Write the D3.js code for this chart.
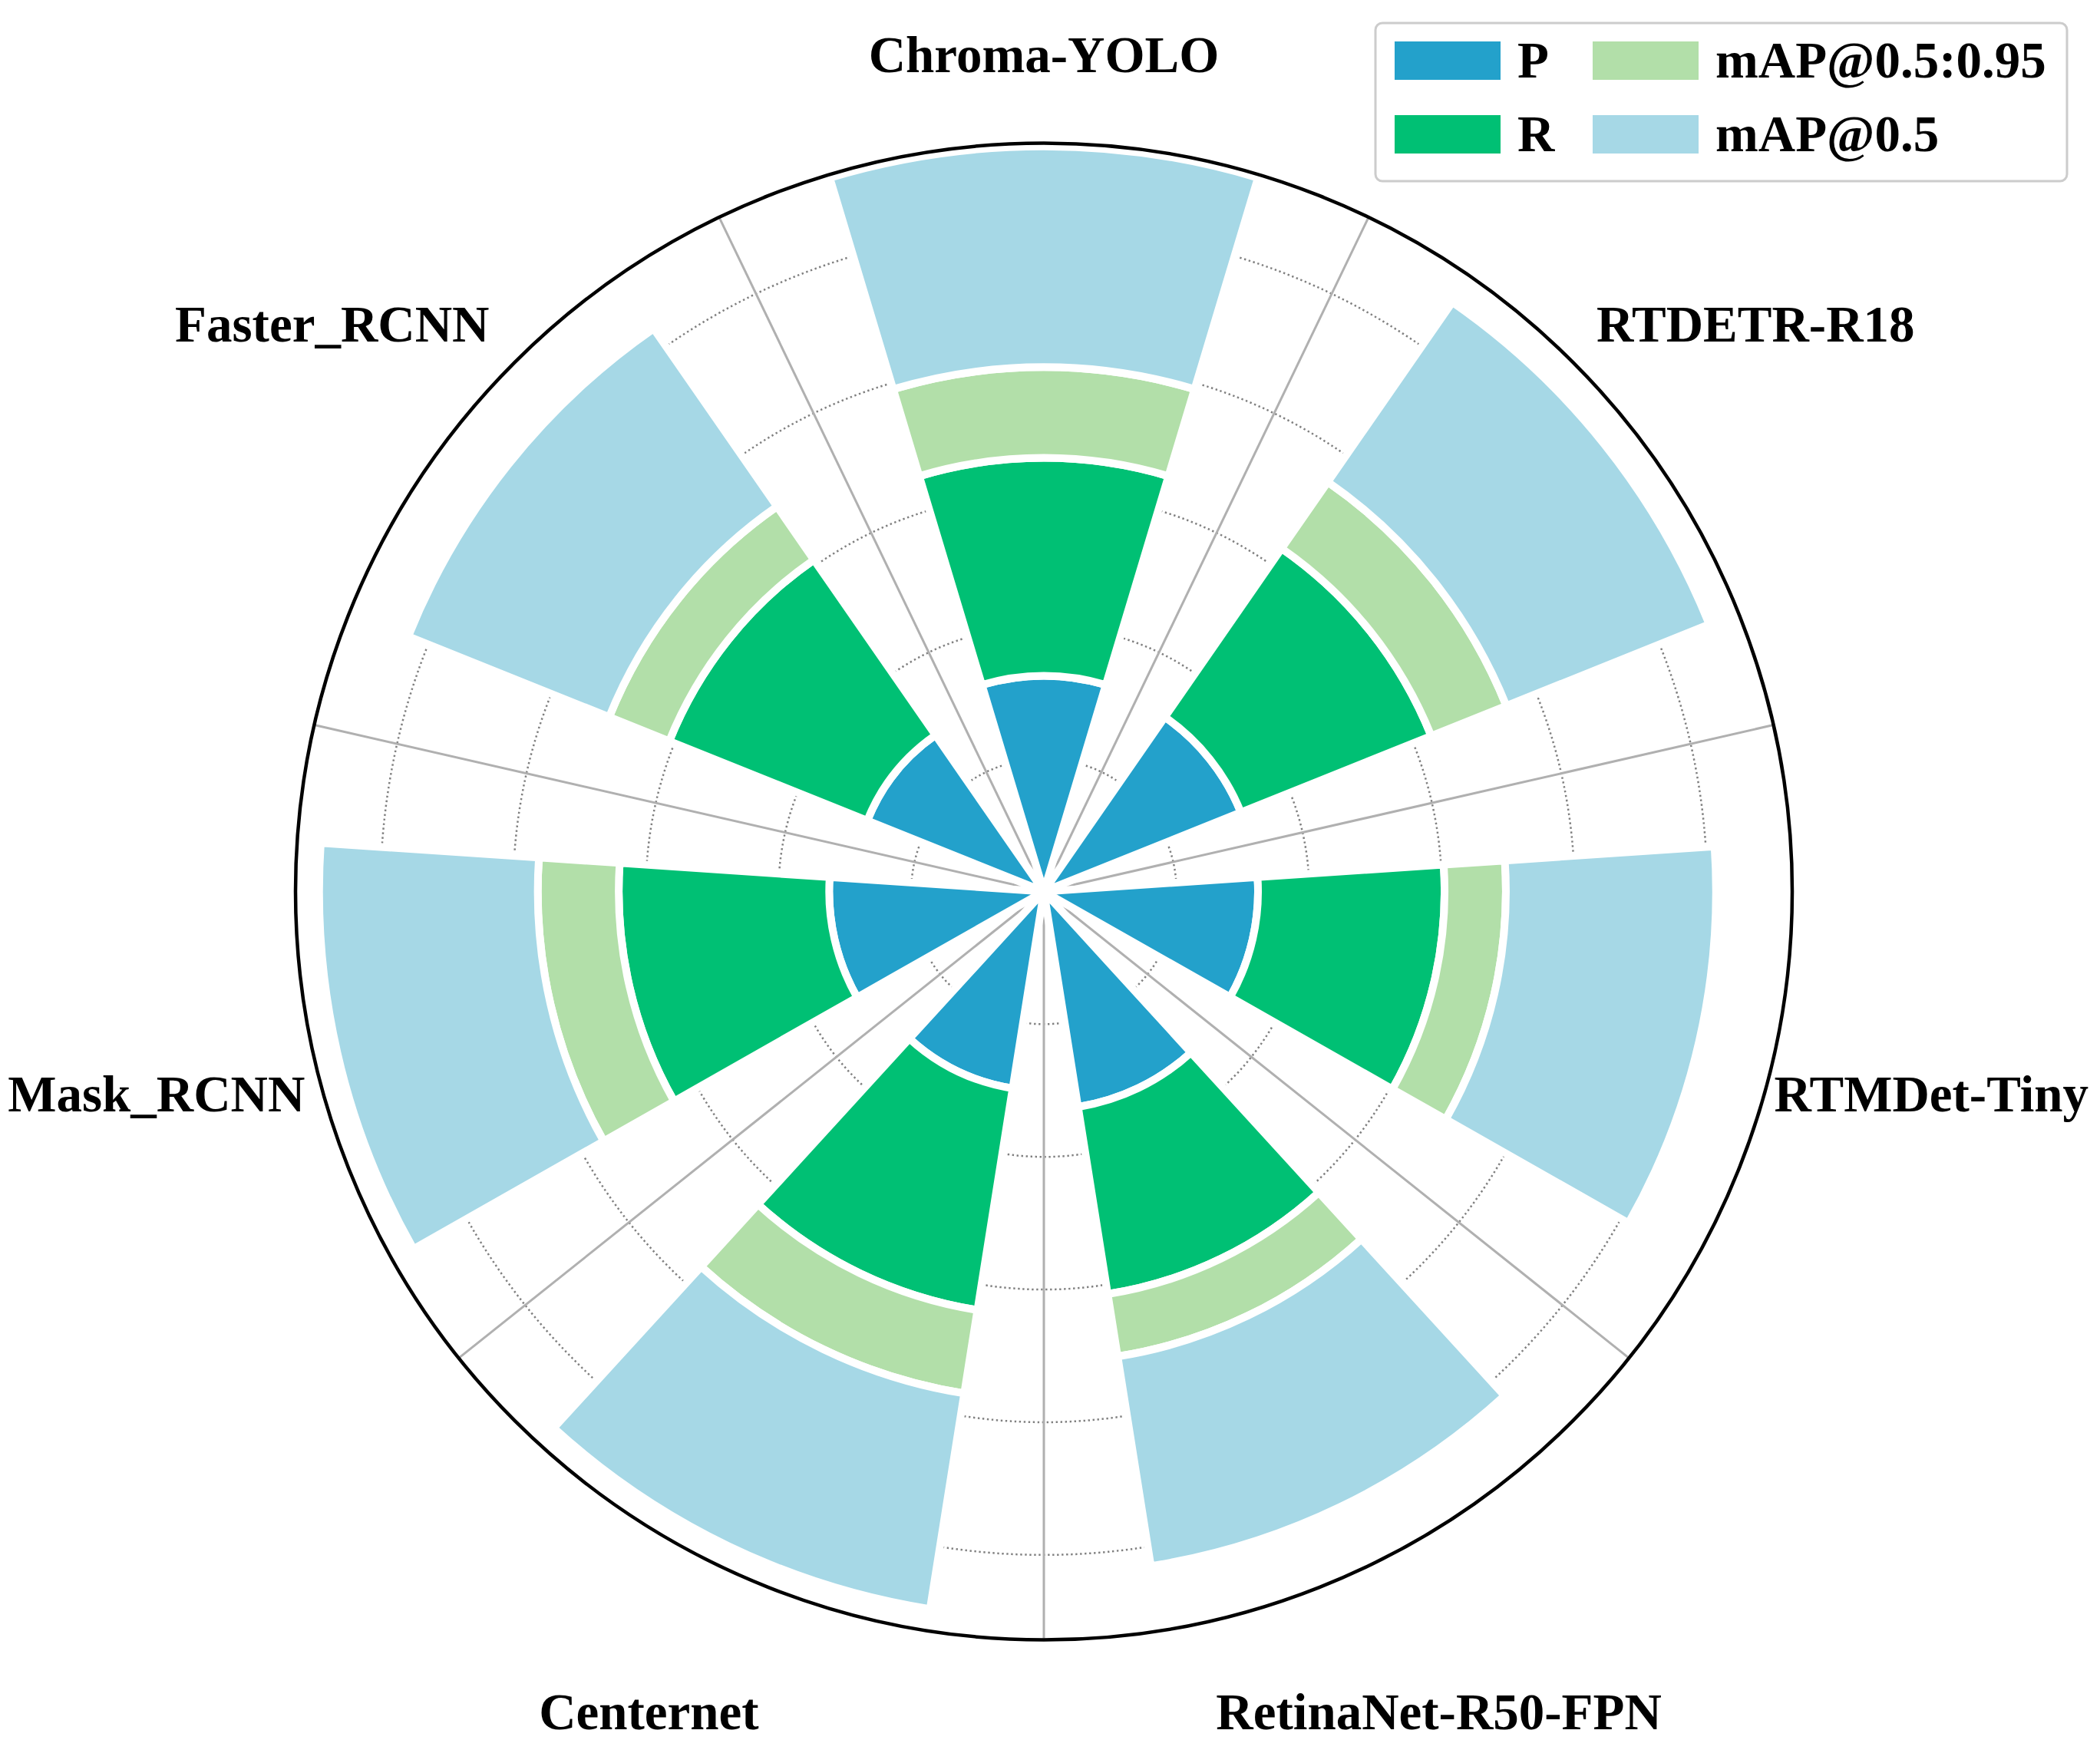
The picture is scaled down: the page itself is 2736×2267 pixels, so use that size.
<!DOCTYPE html>
<html><head><meta charset="utf-8">
<script src="https://cdn.jsdelivr.net/npm/d3@7"></script>
<style>html,body{margin:0;padding:0;background:#fff;} svg{display:block;}</style>
</head><body>
<svg id="chart" width="2736" height="2267"></svg>
<script>
// ---- data ----
const categories = ["Chroma-YOLO","RTDETR-R18","RTMDet-Tiny","RetinaNet-R50-FPN","Centernet","Mask_RCNN","Faster_RCNN"];
const seriesNames = ["P","R","mAP@0.5:0.95","mAP@0.5"];
const P       = [0.813,0.800,0.807,0.822,0.751,0.809,0.717];
const R       = [0.821,0.773,0.703,0.714,0.846,0.793,0.804];
const mAP5095 = [0.342,0.305,0.231,0.238,0.318,0.305,0.244];
const mAP50   = [0.832,0.824,0.792,0.800,0.823,0.824,0.816];
const radialTicks = [0.5,1.0,1.5,2.0,2.5];
const rMax = 2.82;
const colors = ["#23a1cb","#00c074","#b2dfa9","#a6d8e6"];

// ---- layout ----
const W = 2736, H = 2267;
const cx = 1360, cy = 1161.5, outerR = 975;
const n = categories.length;
const barWidth = 0.583;            // radians
const fontFam = "'Liberation Serif','Times New Roman',serif";

const svg = d3.select("#chart");
svg.append("rect").attr("width",W).attr("height",H).attr("fill","#fff");
const g = svg.append("g").attr("transform",`translate(${cx},${cy})`);

const r = d3.scaleLinear().domain([0,rMax]).range([0,outerR]);
const ang = d3.scaleLinear().domain([0,n]).range([0,2*Math.PI]);

const rows = categories.map((c,i)=>({cat:c, "P":P[i], "R":R[i], "mAP@0.5:0.95":mAP5095[i], "mAP@0.5":mAP50[i]}));
const stacked = d3.stack().keys(seriesNames)(rows);

// radial dotted grid circles
g.append("g").selectAll("circle").data(radialTicks).join("circle")
  .attr("r",d=>r(d)).attr("fill","none")
  .attr("stroke","#808080").attr("stroke-width",2.5)
  .attr("stroke-dasharray","2.4,3.6");

// theta grid lines (between categories)
g.append("g").selectAll("line").data(d3.range(n)).join("line")
  .attr("x1",0).attr("y1",0)
  .attr("x2",k=>Math.sin(ang(k+0.5))*outerR)
  .attr("y2",k=>-Math.cos(ang(k+0.5))*outerR)
  .attr("stroke","#b0b0b0").attr("stroke-width",3);

// stacked polar bars
const arc = d3.arc()
  .innerRadius(d=>r(d[0]))
  .outerRadius(d=>r(d[1]))
  .startAngle(d=>ang(d.i)-barWidth/2)
  .endAngle(d=>ang(d.i)+barWidth/2);

stacked.forEach((layer,si)=>{
  g.append("g").selectAll("path")
    .data(layer.map((d,i)=>{const o=[d[0],d[1]]; o.i=i; return o;}))
    .join("path")
    .attr("d",arc)
    .attr("fill",colors[si])
    .attr("stroke","#fff").attr("stroke-width",10).attr("stroke-linejoin","miter");
});

// outer circle
g.append("circle").attr("r",outerR).attr("fill","none")
  .attr("stroke","#000").attr("stroke-width",4.5);

// category labels
const labelR = categories.map((c,i)=> i===0 ? 1091 : 1186);
g.append("g").selectAll("text").data(categories).join("text")
  .attr("x",(d,i)=>Math.sin(ang(i))*labelR[i])
  .attr("y",(d,i)=>-Math.cos(ang(i))*labelR[i] + 23)
  .attr("text-anchor","middle")
  .attr("font-family",fontFam).attr("font-weight","bold")
  .attr("font-size",67).attr("fill","#000")
  .text(d=>d);

// legend
const lg = svg.append("g");
lg.append("rect").attr("x",1792).attr("y",30).attr("width",901).attr("height",206)
  .attr("rx",9).attr("fill","#fff").attr("stroke","#cccccc").attr("stroke-width",3);
const legPos = [
  {sx:1817, sy:54, tx:1977, ty:101},
  {sx:1817, sy:150, tx:1977, ty:197},
  {sx:2075, sy:54, tx:2235, ty:101},
  {sx:2075, sy:150, tx:2235, ty:197}
];
seriesNames.forEach((s,i)=>{
  const p = legPos[i];
  lg.append("rect").attr("x",p.sx).attr("y",p.sy).attr("width",138).attr("height",50).attr("fill",colors[i]);
  lg.append("text").attr("x",p.tx).attr("y",p.ty)
    .attr("font-family",fontFam).attr("font-weight","bold").attr("font-size",67).attr("fill","#000")
    .text(s);
});
</script>
</body></html>
